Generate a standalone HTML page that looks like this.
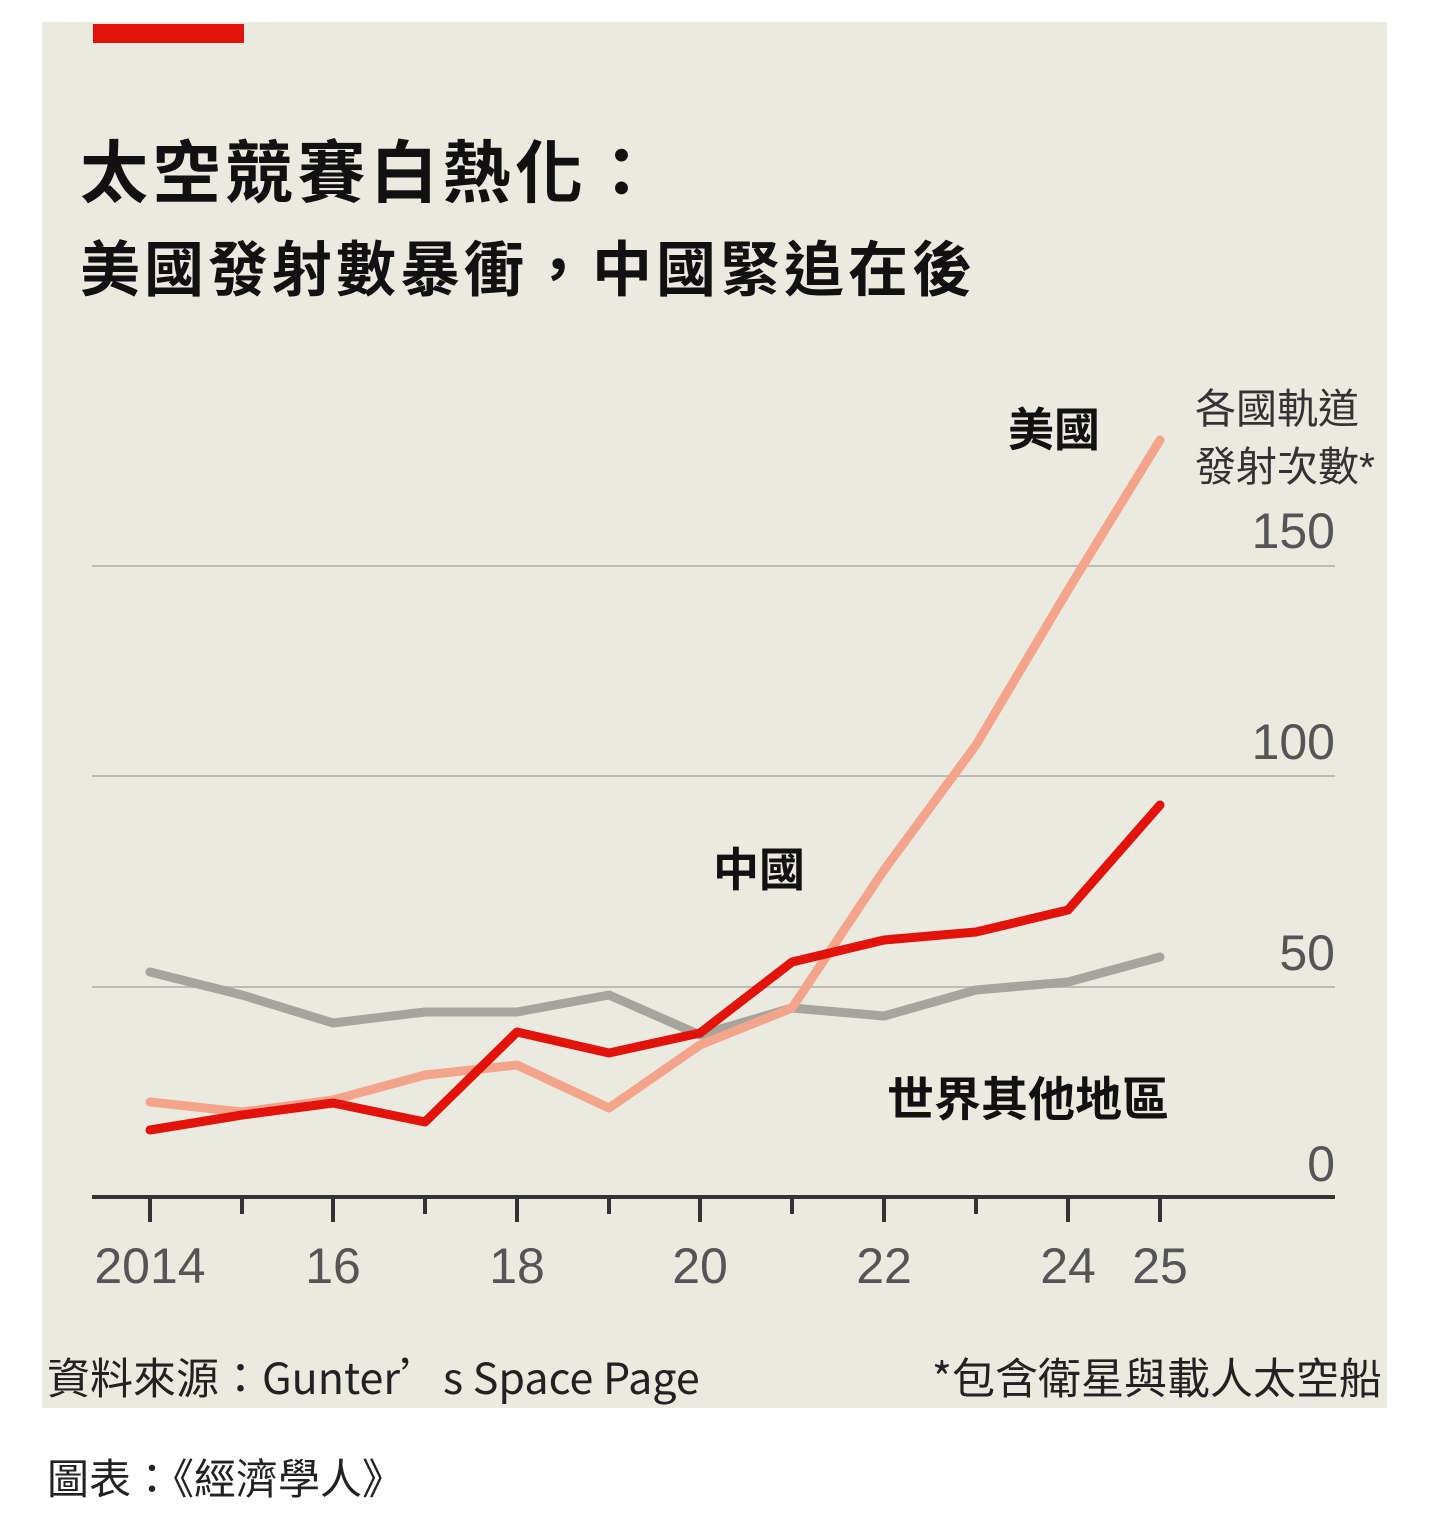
<!DOCTYPE html>
<html><head><meta charset="utf-8"><style>
html,body{margin:0;padding:0;background:#fff;}
body{width:1432px;height:1518px;position:relative;overflow:hidden;font-family:"Liberation Sans","Noto Sans CJK TC",sans-serif;}
.panel{position:absolute;left:42px;top:22px;width:1345px;height:1386px;background:#ebeae0;}
.t{position:absolute;white-space:nowrap;color:#111;}
.n{font-family:"Noto Sans CJK TC",sans-serif;}
</style></head><body>
<div class="panel"></div>
<div style="position:absolute;left:93px;top:24px;width:151px;height:19px;background:#e3120b"></div>
<div class="t" style="left:80px;top:134px;font-size:68px;letter-spacing:4.5px;font-weight:bold;line-height:80px;">太空競賽白熱化：</div>
<div class="t" style="left:80px;top:236px;font-size:60px;letter-spacing:4px;font-weight:bold;line-height:70px;">美國發射數暴衝，中國緊追在後</div>
<svg style="position:absolute;left:0;top:0" width="1432" height="1518">
<g stroke="#bdbcb4" stroke-width="2">
<line x1="92" y1="566" x2="1335" y2="566"/><line x1="92" y1="776" x2="1335" y2="776"/><line x1="92" y1="987" x2="1335" y2="987"/>
</g>
<g fill="none" stroke-linejoin="round" stroke-linecap="round" stroke-width="9">
<polyline stroke="#a5a49d" points="150,972 242,995 333,1023 425,1012 517,1012 609,995 700,1035 792,1008 884,1016 976,990 1068,982 1160,957"/>
<polyline stroke="#f4a48a" points="150,1102 242,1112 333,1100 425,1075 517,1065 609,1108 700,1045 792,1008 884,870 976,745 1068,590 1160,440"/>
<polyline stroke="#e3120b" points="150,1130 242,1115 333,1103 425,1122 517,1032 609,1053 700,1033 792,962 884,940 976,932 1068,910 1160,805"/>
</g>
<line x1="92" y1="1197" x2="1335" y2="1197" stroke="#333" stroke-width="4"/>
<g stroke="#333" stroke-width="4">
<line x1="150" y1="1197" x2="150" y2="1222"/><line x1="333" y1="1197" x2="333" y2="1222"/><line x1="517" y1="1197" x2="517" y2="1222"/><line x1="700" y1="1197" x2="700" y2="1222"/><line x1="884" y1="1197" x2="884" y2="1222"/><line x1="1068" y1="1197" x2="1068" y2="1222"/><line x1="1160" y1="1197" x2="1160" y2="1222"/>
<line x1="242" y1="1197" x2="242" y2="1214"/><line x1="425" y1="1197" x2="425" y2="1214"/><line x1="609" y1="1197" x2="609" y2="1214"/><line x1="792" y1="1197" x2="792" y2="1214"/><line x1="976" y1="1197" x2="976" y2="1214"/>
</g>
<g font-family="Liberation Sans, sans-serif" font-size="50" fill="#555" text-anchor="end">
<text x="1335" y="548">150</text><text x="1335" y="759">100</text><text x="1335" y="970">50</text><text x="1335" y="1181">0</text>
</g>
<g font-family="Liberation Sans, sans-serif" font-size="50" fill="#555" text-anchor="middle">
<text x="150" y="1283">2014</text><text x="333" y="1283">16</text><text x="517" y="1283">18</text><text x="700" y="1283">20</text><text x="884" y="1283">22</text><text x="1068" y="1283">24</text><text x="1160" y="1283">25</text>
</g>
</svg>
<div class="t" style="left:1008px;top:404px;font-size:46px;font-weight:bold;line-height:52px;">美國</div>
<div class="t" style="left:713px;top:844px;font-size:46px;font-weight:bold;line-height:52px;">中國</div>
<div class="t" style="left:887px;top:1074px;font-size:47px;font-weight:bold;line-height:52px;">世界其他地區</div>
<div class="t" style="left:1195px;top:380px;font-size:41px;line-height:58px;color:#333;">各國軌道<br>發射次數*</div>
<div class="t n" style="left:47px;top:1349px;font-size:43px;line-height:54px;color:#222;">資料來源：Gunter’s Space Page</div>
<div class="t n" style="right:50px;top:1349px;font-size:43px;line-height:54px;color:#222;">*包含衛星與載人太空船</div>
<div class="t n" style="left:47px;top:1450px;font-size:42px;line-height:54px;color:#222;">圖表：《經濟學人》</div>
</body></html>
